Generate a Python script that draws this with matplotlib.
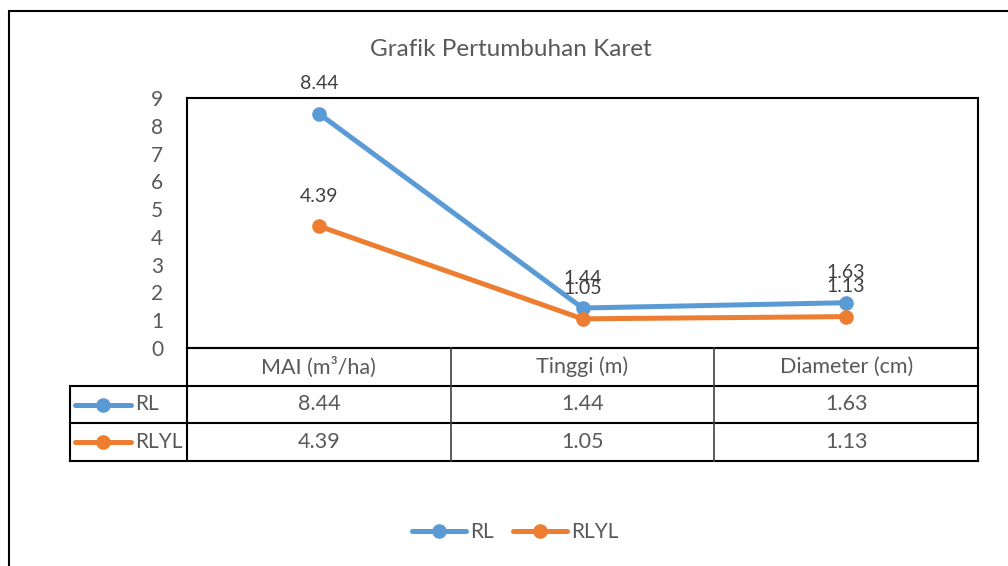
import matplotlib
matplotlib.use("Agg")
import matplotlib.pyplot as plt
from matplotlib.lines import Line2D
from matplotlib.patches import Rectangle

plt.rcParams['font.family'] = ['Lato', 'DejaVu Sans']

categories = ["MAI (m³/ha)", "Tinggi (m)", "Diameter (cm)"]
series_names = ["RL", "RLYL"]
rl_values = [8.44, 1.44, 1.63]
rlyl_values = [4.39, 1.05, 1.13]
y_ticks = [0, 1, 2, 3, 4, 5, 6, 7, 8, 9]
title = "Grafik Pertumbuhan Karet"

colors = ["#5B9BD5", "#ED7D31"]
text_color = "#595959"
W, H = 1008, 566

def rect(x0, y0, x1, y1):
    return [x0 / W, 1 - y1 / H, (x1 - x0) / W, (y1 - y0) / H]

fig = plt.figure(figsize=(W / 100, H / 100), dpi=100)

# outer chart border (extends beyond right/bottom edges)
fig.patches.append(Rectangle((9 / W, -0.05), 1.2, 1 - 11 / H + 0.05,
                             transform=fig.transFigure, fill=False,
                             edgecolor="black", linewidth=1.5))

fig.text(511 / W, 1 - 50 / H, title, ha="center", va="center",
         fontsize=17.5, color=text_color)

ax = fig.add_axes(rect(187, 98, 978, 348))
n = len(categories)
xs = [i + 0.5 for i in range(n)]
all_series = [rl_values, rlyl_values]
for vals, name, c in zip(all_series, series_names, colors):
    ax.plot(xs, vals, color=c, lw=3.6, marker="o", markersize=9.5,
            solid_capstyle="round", label=name, zorder=3)
    for x, v in zip(xs, vals):
        ax.annotate(f"{v:.2f}", (x, v), xytext=(0, 21.5),
                    textcoords="offset points", ha="center", va="center",
                    fontsize=14, color="#404040")
ax.set_xlim(0, n)
ax.set_ylim(0, 9)
ax.set_yticks(y_ticks)
ax.set_xticks([])
ax.tick_params(axis="y", length=0, pad=17, labelsize=15, labelcolor=text_color)
for s in ax.spines.values():
    s.set_color("black")
    s.set_linewidth(1.5)

# data table
col_px = (978 - 187) / n
leg_w = (187 - 70) / col_px
tax = fig.add_axes(rect(70, 348, 978, 461))
tax.set_xlim(-leg_w, n)
tax.set_ylim(3, 0)
tax.axis("off")
lw = 1.5
tax.plot([0, n], [0, 0], color="black", lw=lw, clip_on=False)
for y in [1, 2, 3]:
    tax.plot([-leg_w, n], [y, y], color="black", lw=lw, clip_on=False)
tax.plot([-leg_w, -leg_w], [1, 3], color="black", lw=lw, clip_on=False)
tax.plot([0, 0], [0, 3], color="black", lw=lw, clip_on=False)
tax.plot([n, n], [0, 3], color="black", lw=lw, clip_on=False)
for i in range(1, n):
    tax.plot([i, i], [0, 3], color="#404040", lw=1.2, clip_on=False)
for i, cat in enumerate(categories):
    tax.text(i + 0.5, 0.5, cat, ha="center", va="center", fontsize=15.5, color=text_color)
for r, (vals, name, c) in enumerate(zip(all_series, series_names, colors)):
    yr = r + 1.5
    for i, v in enumerate(vals):
        tax.text(i + 0.5, yr, f"{v:.2f}", ha="center", va="center", fontsize=15.5, color=text_color)
    x0 = (75 - 187) / col_px
    x1 = (131 - 187) / col_px
    xm = (103 - 187) / col_px
    tax.plot([x0, x1], [yr, yr], color=c, lw=3.6, solid_capstyle="round", clip_on=False)
    tax.plot([xm], [yr], color=c, marker="o", markersize=9.5, clip_on=False)
    tax.text((135 - 187) / col_px, yr, name, ha="left", va="center", fontsize=15, color=text_color)

handles = [Line2D([], [], color=c, lw=3.6, marker="o", markersize=9.5, solid_capstyle="round")
           for c in colors]
fig.legend(handles, series_names, loc="center", bbox_to_anchor=(515 / W, 1 - 532 / H),
           ncol=2, frameon=False, fontsize=15, labelcolor=text_color,
           handlelength=2.6, handletextpad=0.2, columnspacing=0.9)

fig.savefig("out.png", dpi=100)
